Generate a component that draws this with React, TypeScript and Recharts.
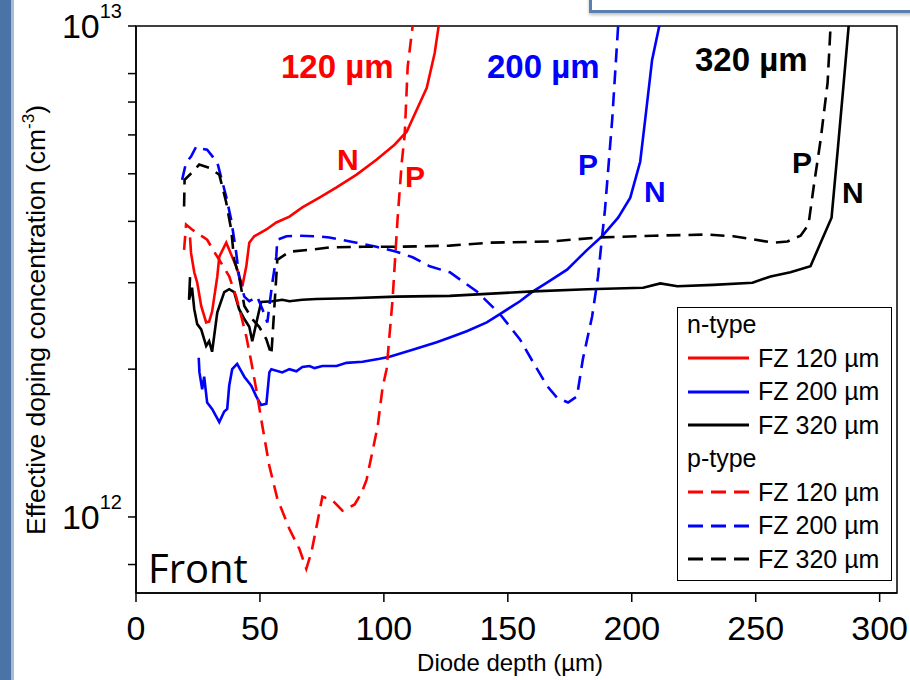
import React from "react";
import { LineChart, Line, XAxis, YAxis, Legend, ReferenceArea, Customized } from "recharts";

const FONT = "'Liberation Sans', Arial, Helvetica, sans-serif";

// [depth (µm), Neff in 1e12 cm^-3]
const nType120: [number, number][] = [
  [21.8, 3.71], [22.2, 3.45], [23.5, 3.15], [24.7, 3.0], [26.3, 2.69], [28.3, 2.49], [29.5, 2.5],
  [30.7, 2.62], [32.8, 3.09], [33.6, 3.39], [36.4, 3.62], [37.6, 3.5], [40.4, 3.24], [42.9, 2.95],
  [44.5, 3.24], [45.7, 3.62], [47.7, 3.73], [50.5, 3.8], [52.6, 3.85], [56.6, 3.98], [61.9, 4.09],
  [67.1, 4.27], [74.0, 4.47], [80.9, 4.69], [89.0, 4.98], [97.0, 5.34], [104.3, 5.73], [109.2, 6.09],
  [117.3, 7.48], [120.5, 8.81], [122.1, 10],
];

const pType120: [number, number][] = [
  [19.4, 3.5], [20.2, 3.94], [22.6, 3.85], [28.7, 3.67], [31.5, 3.47], [33.6, 3.34], [37.6, 3.09],
  [40.4, 2.81], [42.5, 2.56], [44.5, 2.33], [46.5, 2.07], [48.5, 1.82], [51.0, 1.53], [53.8, 1.27],
  [57.0, 1.09], [61.9, 0.945], [65.9, 0.861], [68.7, 0.784], [70.8, 0.849], [73.2, 0.977], [75.2, 1.1],
  [79.3, 1.08], [83.3, 1.03], [88.2, 1.06], [91.0, 1.12], [93.0, 1.19], [95.4, 1.36], [97.5, 1.53],
  [99.5, 1.84], [101.1, 2.0], [103.5, 2.77], [105.5, 4.03], [107.2, 5.27], [108.4, 6.0], [109.6, 8.26],
  [111.6, 10],
];

const nType200: [number, number][] = [
  [25.3, 2.11], [25.6, 1.97], [26.7, 1.82], [27.5, 1.93], [28.7, 1.71], [30.7, 1.66], [33.6, 1.56],
  [35.6, 1.64], [36.8, 1.66], [37.6, 1.85], [38.8, 2.0], [40.8, 2.05], [43.7, 1.93], [46.5, 1.85],
  [48.5, 1.76], [50.5, 1.69], [52.6, 1.7], [53.8, 1.97], [54.6, 2.0], [59.0, 1.97], [61.9, 2.0],
  [64.7, 1.98], [67.1, 2.02], [70.0, 2.03], [72.0, 2.01], [75.2, 2.03], [80.9, 2.03], [84.9, 2.06],
  [91.4, 2.07], [98.3, 2.1], [102.3, 2.12], [111.6, 2.19], [121.3, 2.27], [126.6, 2.32], [133.4, 2.39],
  [141.5, 2.49], [146.8, 2.59], [154.9, 2.75], [159.7, 2.87], [165.8, 3.0], [173.9, 3.19], [177.9, 3.34],
  [182.0, 3.5], [188.0, 3.73], [194.5, 4.07], [199.4, 4.47], [203.4, 5.29], [205.4, 6.44], [208.2, 8.53],
  [211.1, 10],
];

const pType200: [number, number][] = [
  [18.6, 4.86], [20.2, 5.27], [22.2, 5.42], [24.3, 5.68], [26.7, 5.62], [28.7, 5.6], [32.8, 5.27],
  [36.4, 4.49], [38.4, 4.03], [40.4, 3.46], [41.6, 3.09], [43.7, 2.81], [45.7, 2.75], [48.9, 2.81],
  [51.0, 2.65], [53.0, 2.49], [53.8, 2.69], [55.0, 3.0], [56.6, 3.39], [57.0, 3.67], [60.7, 3.73],
  [65.9, 3.74], [72.8, 3.73], [78.0, 3.71], [89.0, 3.62], [97.0, 3.55], [105.1, 3.47], [111.6, 3.38],
  [118.5, 3.24], [126.6, 3.15], [137.5, 2.88], [146.8, 2.59], [154.9, 2.3], [160.1, 2.07], [165.8, 1.85],
  [169.8, 1.75], [174.3, 1.71], [177.9, 1.76], [180.3, 2.1], [184.0, 2.56], [186.4, 3.09], [188.0, 3.71],
  [189.2, 4.23], [192.1, 6.44], [194.5, 10],
];

const nType320: [number, number][] = [
  [21.8, 3.08], [21.4, 2.77], [22.6, 2.93], [23.5, 2.65], [24.7, 2.47], [26.3, 2.41], [28.3, 2.23],
  [29.5, 2.28], [30.7, 2.17], [32.8, 2.61], [35.6, 2.87], [37.6, 2.91], [39.6, 2.87], [41.6, 2.65],
  [43.7, 2.53], [45.7, 2.44], [46.9, 2.28], [48.9, 2.53], [50.5, 2.74], [55.0, 2.75], [59.0, 2.77],
  [61.9, 2.75], [67.1, 2.77], [72.8, 2.78], [86.1, 2.79], [105.1, 2.81], [126.6, 2.82], [160.1, 2.88],
  [182.0, 2.91], [204.6, 2.93], [211.5, 2.99], [218.4, 2.95], [232.9, 2.97], [248.7, 3.0], [256.0, 3.09],
  [264.0, 3.15], [272.1, 3.24], [276.2, 3.62], [280.6, 4.07], [283.1, 5.6], [285.5, 7.66], [287.5, 10],
];

const pType320: [number, number][] = [
  [19.4, 4.29], [19.6, 4.86], [22.6, 5.03], [25.5, 5.22], [29.5, 5.14], [33.6, 4.98], [36.4, 4.37],
  [38.4, 3.85], [39.6, 3.34], [41.6, 3.09], [43.7, 2.69], [46.9, 2.53], [49.7, 2.44], [52.6, 2.3],
  [54.6, 2.14], [55.0, 2.3], [56.6, 3.09], [57.0, 3.34], [61.9, 3.47], [70.0, 3.5], [78.0, 3.54],
  [91.4, 3.55], [105.1, 3.55], [126.6, 3.57], [142.7, 3.62], [167.0, 3.64], [187.2, 3.71], [208.7, 3.74],
  [230.5, 3.76], [241.0, 3.73], [257.2, 3.62], [262.8, 3.64], [268.1, 3.74], [271.3, 3.94], [273.4, 4.71],
  [276.2, 5.87], [279.0, 7.66], [280.2, 10],
];

const xTicks = [0, 50, 100, 150, 200, 250, 300];
const yTicks = [0.8, 0.9, 1, 2, 3, 4, 5, 6, 7, 8, 9, 10];
const yExponents: Record<string, string> = { "1": "12", "10": "13" };

const seriesList = [
  { id: "n120", type: "n-type", name: "FZ 120 µm", color: "#ff0000", dashed: false, points: nType120 },
  { id: "n200", type: "n-type", name: "FZ 200 µm", color: "#0000ff", dashed: false, points: nType200 },
  { id: "n320", type: "n-type", name: "FZ 320 µm", color: "#000000", dashed: false, points: nType320 },
  { id: "p120", type: "p-type", name: "FZ 120 µm", color: "#ff0000", dashed: true, points: pType120 },
  { id: "p200", type: "p-type", name: "FZ 200 µm", color: "#0000ff", dashed: true, points: pType200 },
  { id: "p320", type: "p-type", name: "FZ 320 µm", color: "#000000", dashed: true, points: pType320 },
];

const DASH = "14 8";

function XTick({ x, y, payload }: any) {
  return (
    <text x={x} y={y} dy={36} textAnchor="middle" fontSize={34} fill="#000" fontFamily={FONT}>
      {payload.value}
    </text>
  );
}

function YTick({ x, y, payload }: any) {
  const exp = yExponents[String(payload.value)];
  if (!exp) return <g />;
  return (
    <text x={x - 4} y={y + 12} textAnchor="end" fontSize={34} fill="#000" fontFamily={FONT}>
      <tspan>10</tspan>
      <tspan dy={-20} fontSize={20}>{exp}</tspan>
    </text>
  );
}

function LegendBox() {
  const row = (label: string, i: number) => (
    <div key={"h" + i} style={{ height: 33.5, lineHeight: "33.5px", paddingLeft: 9 }}>{label}</div>
  );
  const entry = (s: (typeof seriesList)[number]) => (
    <div key={s.id} style={{ height: 33.5, display: "flex", alignItems: "center", paddingLeft: 9 }}>
      <svg width={64} height={6} style={{ marginRight: 7 }}>
        <line x1={1} y1={3} x2={62} y2={3} stroke={s.color} strokeWidth={3} strokeDasharray={s.dashed ? "15 8" : undefined} />
      </svg>
      <span>{s.name}</span>
    </div>
  );
  return (
    <div
      style={{
        width: 215,
        height: 274,
        boxSizing: "border-box",
        border: "1px solid #000",
        background: "#fff",
        fontFamily: FONT,
        fontSize: 25,
        color: "#000",
      }}
    >
      {row("n-type", 0)}
      {seriesList.filter((s) => !s.dashed).map(entry)}
      {row("p-type", 1)}
      {seriesList.filter((s) => s.dashed).map(entry)}
    </div>
  );
}

function Notes() {
  return (
    <g fontFamily={FONT}>
      <g fontWeight="bold">
        <text x={281} y={78} fontSize={33} fill="#ff0000">120 µm</text>
        <text x={487} y={78} fontSize={33} fill="#0000ff">200 µm</text>
        <text x={695} y={71} fontSize={33} fill="#000">320 µm</text>
        <text x={337} y={170} fontSize={30} fill="#ff0000">N</text>
        <text x={405} y={187} fontSize={30} fill="#ff0000">P</text>
        <text x={578} y={175} fontSize={30} fill="#0000ff">P</text>
        <text x={644} y={202} fontSize={30} fill="#0000ff">N</text>
        <text x={792} y={173} fontSize={30} fill="#000">P</text>
        <text x={842} y={203} fontSize={30} fill="#000">N</text>
      </g>
      <text x={148} y={583} fontSize={40} fill="#000" fontFamily="'Open Sans', sans-serif">Front</text>
      <text x={510} y={671} fontSize={24} fill="#000" textAnchor="middle">Diode depth (µm)</text>
      <text transform="translate(45,320) rotate(-90)" fontSize={26.5} fill="#000" textAnchor="middle">
        Effective doping concentration (cm<tspan dy={-11} fontSize={17}>-3</tspan>
        <tspan dy={11}>)</tspan>
      </text>
    </g>
  );
}

export default function App() {
  return (
    <div style={{ position: "absolute", left: 0, top: 0, width: 910, height: 680, background: "#fff", overflow: "hidden" }}>
      <div style={{ position: "absolute", left: 0, top: 0, width: 11, height: 680, background: "#4a73a6", borderRight: "3px solid #a9bcd6" }} />
      <div
        style={{
          position: "absolute",
          left: 589,
          top: -20,
          width: 340,
          height: 27,
          background: "#fff",
          border: "3px solid #5a80ae",
          boxShadow: "0 2px 3px rgba(0,0,0,0.25)",
        }}
      />
      <LineChart width={910} height={680} margin={{ top: 26, right: 13, left: 40, bottom: 27 }} style={{ position: "absolute", left: 0, top: 0 }}>
        <XAxis
          dataKey="d"
          type="number"
          domain={[0, 307]}
          ticks={xTicks}
          allowDataOverflow
          height={60}
          tickSize={9}
          tick={<XTick />}
          axisLine={{ stroke: "#000", strokeWidth: 1.5 }}
          tickLine={{ stroke: "#000", strokeWidth: 1.5 }}
        />
        <YAxis
          type="number"
          scale="log"
          domain={[0.7, 10]}
          ticks={yTicks}
          allowDataOverflow
          width={96}
          tickSize={8}
          tick={<YTick />}
          axisLine={{ stroke: "#000", strokeWidth: 1.5 }}
          tickLine={{ stroke: "#000", strokeWidth: 1.5 }}
        />
        <ReferenceArea x1={0} x2={307} y1={0.7} y2={10} fill="none" stroke="#000" strokeWidth={1.5} ifOverflow="visible" />
        {seriesList.map((s) => (
          <Line
            key={s.id}
            data={s.points.map(([d, v]) => ({ d, v }))}
            dataKey="v"
            name={s.name}
            type="linear"
            stroke={s.color}
            strokeWidth={2.6}
            strokeDasharray={s.dashed ? DASH : undefined}
            dot={false}
            activeDot={false}
            isAnimationActive={false}
          />
        ))}
        <Legend
          layout="horizontal"
          verticalAlign="middle"
          align="center"
          width={215}
          height={274}
          content={() => <LegendBox />}
          wrapperStyle={{ left: 677, top: 307, width: 215, height: 274 }}
        />
        <Customized component={Notes} />
      </LineChart>
    </div>
  );
}
